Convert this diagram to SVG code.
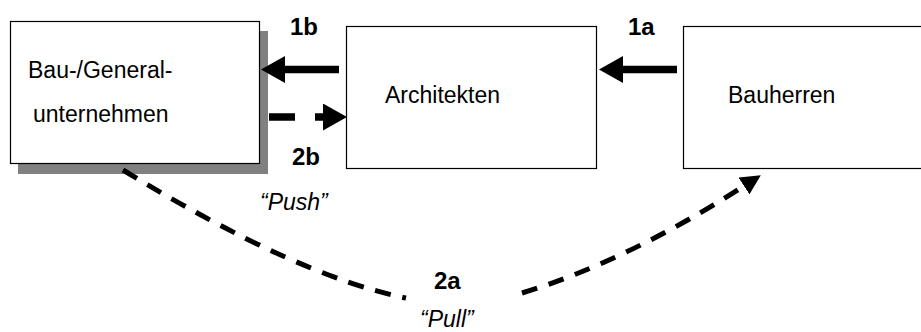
<svg xmlns="http://www.w3.org/2000/svg" width="921" height="332" viewBox="0 0 921 332">
<style>
.box{fill:#fff;stroke:#000;stroke-width:1.2}
.shadow{fill:#808080;stroke:none}
.lbl{font-family:"Liberation Sans",Arial,sans-serif;font-size:23px;fill:#000}
.num{font-family:"Liberation Sans",Arial,sans-serif;font-size:24px;font-weight:bold;fill:#000}
.it{font-family:"Liberation Sans",Arial,sans-serif;font-size:23px;font-style:italic;fill:#000}
.solid{fill:none;stroke:#000;stroke-width:7.5;marker-end:url(#ah)}
.dash{fill:none;stroke:#000;stroke-width:7.5;stroke-dasharray:26 20;marker-end:url(#ah)}
.curve{fill:none;stroke:#000;stroke-width:5;stroke-dasharray:16 12}
</style>
<defs>
<marker id="ah" markerUnits="userSpaceOnUse" viewBox="0 0 24 27" markerWidth="24" markerHeight="27" refX="0" refY="13.5" orient="auto">
<path d="M0,0 L24,13.5 L0,27 Z" fill="#000"/>
</marker>
<marker id="ah2" markerUnits="userSpaceOnUse" viewBox="0 0 20 20" markerWidth="20" markerHeight="20" refX="0" refY="10" orient="auto">
<path d="M0,0 L20,10 L0,20 Z" fill="#000"/>
</marker>
</defs>
<g id="node-bau">
<rect class="shadow" x="18" y="31" width="250" height="143"/>
<rect class="box" x="10.5" y="21.5" width="249" height="142"/>
<text class="lbl" x="28" y="78">Bau-/General-</text>
<text class="lbl" x="33" y="122">unternehmen</text>
</g>
<g id="node-architekten">
<rect class="box" x="346.5" y="26.5" width="250" height="142"/>
<text class="lbl" x="385" y="103">Architekten</text>
</g>
<g id="node-bauherren">
<rect class="box" x="683.5" y="26.5" width="250" height="142"/>
<text class="lbl" x="728" y="103">Bauherren</text>
</g>
<g id="connectors">
<line class="solid" x1="677" y1="69.5" x2="623" y2="69.5"/>
<line class="solid" x1="339" y1="69.5" x2="285" y2="69.5"/>
<line class="dash" x1="269" y1="117" x2="323" y2="117"/>
<path class="curve" d="M123,170 Q297,276 406,298"/>
<path class="curve" d="M522,293 Q627,261 744,186" marker-end="url(#ah2)"/>
</g>
<g id="labels">
<text class="num" x="290" y="35">1b</text>
<text class="num" x="628" y="35">1a</text>
<text class="num" x="292" y="165">2b</text>
<text class="num" x="434" y="289">2a</text>
<text class="it" x="260" y="210">“Push”</text>
<text class="it" x="420" y="327">“Pull”</text>
</g>
</svg>
